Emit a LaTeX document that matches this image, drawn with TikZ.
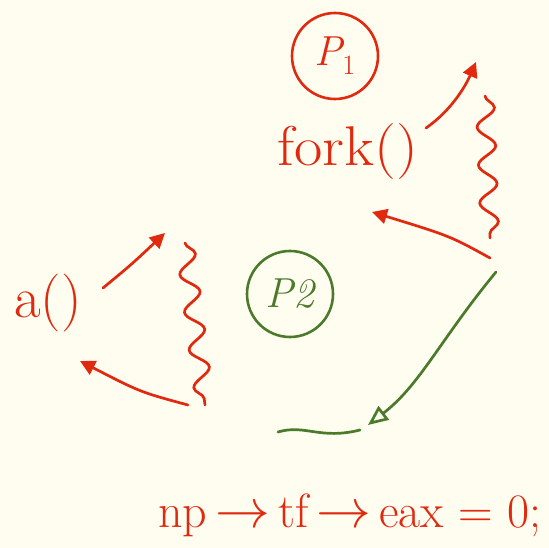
\documentclass[tikz,border=0pt]{standalone}
\usetikzlibrary{arrows.meta,decorations.pathmorphing}
\definecolor{bg}{HTML}{FFFDF0}
\definecolor{ink}{HTML}{E0290F}
\definecolor{leaf}{HTML}{4B7A2B}
\newcommand{\bigarr}{\,\scalebox{2.2}{$\rightarrow$}\,}
\begin{document}
\begin{tikzpicture}[x=1pt,y=-1pt,
  redline/.style={ink, line width=2.7pt, line cap=round},
  greenline/.style={leaf, line width=2.7pt, line cap=round},
  wavy/.style={decorate, decoration={snake, amplitude=9pt, segment length=38pt}},
  redtip/.style={-{Triangle[length=15pt,width=15pt]}},
  greentip/.style={-{Triangle[open,length=20pt,width=17pt]}},
  proc/.style={circle, line width=2.6pt, minimum size=86pt, inner sep=0pt, font=\fontsize{42}{42}\selectfont},
  hand/.style={text=ink, font=\fontsize{56}{56}\selectfont, inner sep=0pt}]
\fill[bg] (0,0) rectangle (549,548);
\useasboundingbox (0,0) rectangle (549,548);

% process circles
\node[proc, draw=ink, text=ink] (p1) at (335,56) {\itshape P\raisebox{-9pt}{\fontsize{28}{28}\selectfont\upshape 1}};
\node[proc, draw=leaf, text=leaf] (p2) at (290,294) {\itshape P2};

% texts
\node[hand, xscale=1.1] (fork) at (348,152) {fork()};
\node[hand, font=\fontsize{58}{58}\selectfont] (acall) at (48,303) {a()};
\node[hand, font=\fontsize{48}{48}\selectfont] (code) at (350,515) {np\bigarr tf\bigarr eax = 0;};

% coordinates
\coordinate (a1s) at (426,128);
\coordinate (a1e) at (476,62);
\coordinate (w1s) at (485,96);
\coordinate (w1e) at (490,238);
\coordinate (a2s) at (490,258);
\coordinate (a2e) at (372,212);
\coordinate (g1s) at (496,272);
\coordinate (g1e) at (368,425);
\coordinate (g2s) at (278,432);
\coordinate (g2e) at (360,430);
\coordinate (a3s) at (103,288);
\coordinate (a3e) at (165,233);
\coordinate (w2s) at (185,243);
\coordinate (w2e) at (205,405);
\coordinate (a4s) at (188,405);
\coordinate (a4e) at (80,361);

% red connectors, upper right
\draw[redline, redtip] (a1s) .. controls (452,110) and (466,85) .. (a1e);
\draw[redline, wavy] (w1s) -- (w1e);
\draw[redline, redtip] (a2s) .. controls (450,236) .. (a2e);

% green connectors
\draw[greenline, greentip] (g1s) .. controls (440,340) and (420,385) .. (g1e);
\draw[greenline] (g2s) .. controls (305,424) and (320,440) .. (g2e);

% red connectors, left
\draw[redline, redtip] (a3s) .. controls (132,264) .. (a3e);
\draw[redline, wavy] (w2s) -- (w2e);
\draw[redline, redtip] (a4s) .. controls (140,392) .. (a4e);
\end{tikzpicture}
\end{document}
